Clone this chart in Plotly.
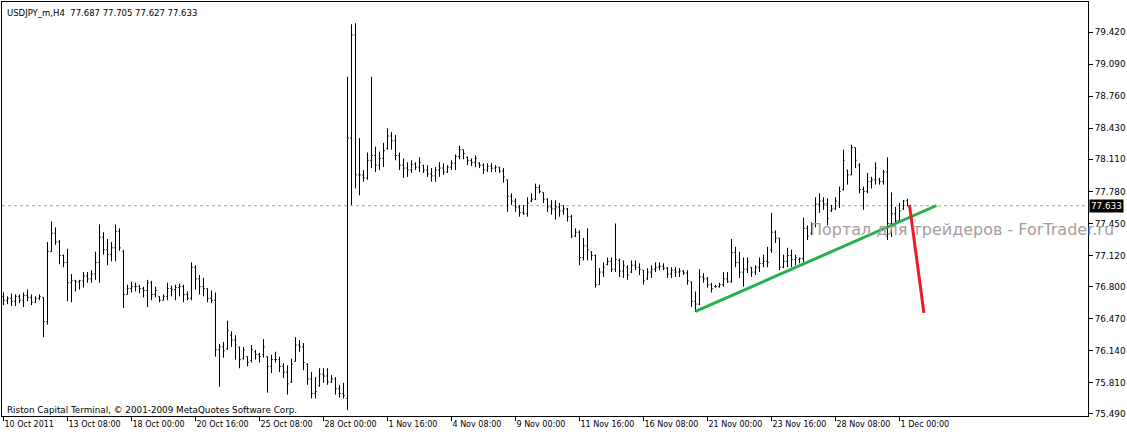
import plotly.graph_objects as go

# ---- data ----
bar_index = list(range(227))

opens = [76.70, 76.66, 76.68, 76.65, 76.70, 76.66, 76.71, 76.69, 76.64, 76.68,
         76.69, 76.44, 77.16, 77.35, 77.26, 77.12, 77.05, 76.84, 76.86, 76.85,
         76.86, 76.91, 76.88, 76.93, 77.05, 77.31, 77.18, 77.13, 77.20, 77.37,
         77.16, 76.72, 76.78, 76.80, 76.80, 76.78, 76.76, 76.84, 76.72, 76.70,
         76.66, 76.70, 76.78, 76.77, 76.79, 76.80, 76.72, 76.68, 77.00, 76.88,
         76.80, 76.78, 76.68, 76.66, 76.15, 76.18, 76.16, 76.30, 76.25, 76.18,
         76.06, 76.08, 76.04, 76.13, 76.10, 76.10, 76.08, 75.98, 76.05, 76.05,
         75.98, 75.92, 75.82, 76.03, 76.20, 76.18, 76.00, 75.85, 75.70, 75.78,
         75.90, 75.88, 75.82, 75.85, 75.75, 75.70, 75.65, 78.33, 79.39, 77.95,
         77.95, 77.92, 78.10, 78.15, 78.05, 78.12, 78.22, 78.35, 78.30, 78.15,
         78.05, 78.02, 78.00, 78.06, 78.03, 78.05, 78.00, 77.96, 77.94, 78.00,
         78.02, 77.98, 78.03, 78.07, 78.14, 78.21, 78.13, 78.10, 78.08, 78.07,
         78.05, 78.00, 78.04, 78.02, 78.03, 77.99, 77.90, 77.73, 77.68, 77.62,
         77.56, 77.55, 77.68, 77.70, 77.82, 77.77, 77.70, 77.62, 77.60, 77.62,
         77.58, 77.60, 77.52, 77.32, 77.36, 77.10, 77.22, 77.16, 77.12, 76.82,
         76.95, 77.03, 77.06, 76.98, 77.07, 76.96, 77.00, 76.95, 77.02, 77.00,
         76.97, 76.88, 76.95, 76.98, 77.00, 77.01, 76.99, 76.93, 76.97, 76.95,
         76.96, 76.94, 76.85, 76.65, 76.62, 76.90, 76.88, 76.82, 76.80, 76.80,
         76.82, 76.88, 76.85, 77.15, 77.05, 76.95, 76.98, 77.00, 76.95, 77.00,
         77.04, 77.06, 77.18, 77.36, 77.30, 77.00, 77.06, 77.12, 77.08, 77.08,
         77.09, 77.40, 77.35, 77.45, 77.65, 77.68, 77.65, 77.58, 77.60, 77.66,
         77.80, 78.00, 77.95, 78.23, 78.05, 77.80, 77.78, 77.88, 77.90, 77.90,
         77.88, 77.98, 77.45, 77.55, 77.48, 77.60, 77.687]

highs = [76.74, 76.70, 76.73, 76.72, 76.72, 76.74, 76.77, 76.72, 76.70, 76.72,
         76.69, 77.26, 77.47, 77.41, 77.28, 77.13, 77.19, 76.93, 76.87, 76.87,
         76.95, 76.95, 76.97, 77.16, 77.44, 77.36, 77.29, 77.26, 77.44, 77.40,
         77.18, 76.82, 76.85, 76.84, 76.82, 76.80, 76.87, 76.86, 76.80, 76.70,
         76.72, 76.84, 76.81, 76.82, 76.83, 76.82, 76.75, 77.05, 77.02, 76.92,
         76.89, 76.78, 76.76, 76.74, 76.21, 76.23, 76.45, 76.34, 76.30, 76.18,
         76.18, 76.08, 76.20, 76.15, 76.12, 76.26, 76.08, 76.10, 76.13, 76.08,
         76.01, 75.99, 76.06, 76.28, 76.25, 76.22, 76.01, 75.92, 75.87, 75.96,
         75.96, 75.96, 75.89, 75.87, 75.79, 75.81, 78.96, 79.50, 79.51, 78.33,
         78.00, 78.18, 78.96, 78.24, 78.19, 78.28, 78.43, 78.39, 78.36, 78.18,
         78.12, 78.08, 78.10, 78.08, 78.13, 78.05, 78.05, 78.02, 78.03, 78.08,
         78.07, 78.05, 78.10, 78.16, 78.25, 78.21, 78.14, 78.12, 78.15, 78.08,
         78.07, 78.07, 78.07, 78.05, 78.03, 78.02, 77.90, 77.76, 77.71, 77.64,
         77.64, 77.72, 77.76, 77.86, 77.85, 77.77, 77.71, 77.69, 77.69, 77.66,
         77.64, 77.61, 77.54, 77.40, 77.38, 77.30, 77.40, 77.16, 77.13, 76.99,
         77.05, 77.10, 77.10, 77.45, 77.09, 77.07, 77.02, 77.07, 77.07, 77.04,
         76.97, 76.99, 77.02, 77.05, 77.05, 77.04, 77.00, 77.00, 77.00, 76.99,
         76.97, 76.97, 76.85, 76.75, 76.98, 76.94, 76.90, 76.84, 76.82, 76.84,
         76.95, 76.95, 77.29, 77.21, 77.16, 77.10, 77.10, 77.00, 77.02, 77.10,
         77.13, 77.21, 77.56, 77.38, 77.30, 77.13, 77.20, 77.18, 77.13, 77.10,
         77.51, 77.43, 77.46, 77.72, 77.76, 77.72, 77.71, 77.64, 77.72, 77.83,
         78.21, 78.00, 78.26, 78.23, 78.07, 77.83, 77.97, 77.93, 78.08, 77.92,
         78.00, 78.13, 77.77, 77.62, 77.66, 77.69, 77.705]

lows = [76.61, 76.62, 76.60, 76.60, 76.63, 76.59, 76.65, 76.61, 76.63, 76.66,
        76.28, 76.41, 77.16, 77.23, 77.03, 77.00, 76.65, 76.64, 76.75, 76.77,
        76.79, 76.84, 76.84, 76.87, 76.84, 77.13, 77.02, 77.06, 77.06, 77.17,
        76.58, 76.72, 76.74, 76.75, 76.73, 76.69, 76.59, 76.66, 76.69, 76.64,
        76.66, 76.66, 76.70, 76.66, 76.70, 76.64, 76.66, 76.66, 76.77, 76.72,
        76.70, 76.64, 76.63, 76.08, 75.77, 76.07, 76.15, 76.18, 76.05, 75.96,
        76.05, 75.98, 76.02, 76.05, 76.02, 76.07, 75.71, 75.91, 76.02, 75.92,
        75.86, 75.69, 75.81, 76.03, 76.13, 75.94, 75.79, 75.65, 75.65, 75.77,
        75.81, 75.79, 75.81, 75.69, 75.66, 75.65, 75.53, 77.64, 77.81, 77.74,
        77.88, 77.90, 78.02, 77.98, 78.00, 78.03, 78.21, 78.21, 78.10, 78.00,
        77.92, 77.93, 77.97, 78.00, 77.98, 77.97, 77.93, 77.88, 77.88, 77.93,
        77.95, 77.97, 78.00, 78.00, 78.11, 78.11, 78.05, 78.04, 78.03, 78.02,
        77.96, 77.98, 77.98, 77.98, 77.97, 77.87, 77.57, 77.64, 77.57, 77.52,
        77.54, 77.52, 77.67, 77.69, 77.76, 77.66, 77.57, 77.54, 77.49, 77.52,
        77.54, 77.47, 77.30, 77.31, 77.02, 77.07, 77.07, 77.07, 76.79, 76.82,
        76.90, 77.02, 76.95, 76.95, 76.90, 76.89, 76.87, 76.94, 76.97, 76.92,
        76.82, 76.87, 76.89, 76.95, 76.97, 76.97, 76.89, 76.89, 76.90, 76.90,
        76.92, 76.82, 76.59, 76.54, 76.61, 76.84, 76.79, 76.74, 76.79, 76.79,
        76.80, 76.84, 76.84, 77.00, 76.89, 76.80, 76.94, 76.90, 76.92, 76.95,
        77.00, 77.00, 77.15, 77.25, 76.97, 76.99, 77.00, 77.00, 77.02, 77.04,
        77.05, 77.28, 77.33, 77.41, 77.56, 77.59, 77.43, 77.57, 77.59, 77.61,
        77.79, 77.85, 77.95, 78.02, 77.76, 77.59, 77.76, 77.81, 77.85, 77.85,
        77.85, 77.28, 77.31, 77.43, 77.46, 77.59, 77.627]

closes = [76.66, 76.68, 76.65, 76.70, 76.66, 76.71, 76.69, 76.64, 76.68, 76.70,
          76.44, 77.16, 77.35, 77.26, 77.12, 77.05, 76.84, 76.86, 76.85, 76.86,
          76.91, 76.88, 76.93, 77.05, 77.31, 77.18, 77.13, 77.20, 77.37, 77.20,
          76.72, 76.78, 76.80, 76.80, 76.78, 76.76, 76.84, 76.72, 76.76, 76.66,
          76.70, 76.78, 76.77, 76.79, 76.80, 76.72, 76.68, 77.00, 76.88, 76.80,
          76.78, 76.68, 76.66, 76.15, 76.18, 76.14, 76.35, 76.25, 76.20, 76.05,
          76.15, 76.02, 76.15, 76.10, 76.08, 76.18, 75.98, 76.05, 76.05, 75.98,
          75.92, 75.80, 76.00, 76.20, 76.18, 76.02, 75.85, 75.70, 75.72, 75.90,
          75.88, 75.82, 75.85, 75.75, 75.70, 75.68, 78.33, 79.39, 77.95, 77.95,
          77.92, 78.10, 78.15, 78.05, 78.12, 78.20, 78.35, 78.30, 78.15, 78.05,
          78.02, 78.00, 78.06, 78.03, 78.08, 78.00, 77.96, 77.94, 78.00, 78.02,
          77.98, 78.03, 78.07, 78.14, 78.21, 78.17, 78.10, 78.08, 78.12, 78.05,
          78.00, 78.04, 78.02, 78.03, 77.99, 77.93, 77.73, 77.68, 77.62, 77.56,
          77.55, 77.66, 77.70, 77.82, 77.78, 77.70, 77.62, 77.60, 77.62, 77.58,
          77.60, 77.52, 77.32, 77.36, 77.10, 77.22, 77.18, 77.12, 76.82, 76.95,
          77.00, 77.06, 76.98, 77.08, 76.96, 77.02, 76.92, 77.02, 77.00, 76.98,
          76.86, 76.95, 76.98, 77.00, 77.01, 76.99, 76.93, 76.97, 76.95, 76.96,
          76.94, 76.86, 76.65, 76.62, 76.90, 76.88, 76.82, 76.78, 76.80, 76.82,
          76.88, 76.85, 77.15, 77.05, 76.95, 76.98, 77.06, 76.95, 77.00, 77.04,
          77.06, 77.05, 77.36, 77.30, 77.00, 77.06, 77.12, 77.08, 77.10, 77.09,
          77.40, 77.32, 77.40, 77.65, 77.68, 77.65, 77.50, 77.60, 77.68, 77.78,
          78.10, 77.95, 78.23, 78.10, 77.80, 77.78, 77.88, 77.90, 78.02, 77.88,
          77.98, 77.45, 77.55, 77.48, 77.58, 77.68, 77.633]

# time-axis labels (every 16 bars of H4)
time_tick_pos = [0, 16, 32, 48, 64, 80, 96, 112, 128, 144, 160, 176, 192, 208, 224]
time_tick_text = ["10 Oct 2011", "13 Oct 08:00", "18 Oct 00:00", "20 Oct 16:00",
                  "25 Oct 08:00", "28 Oct 00:00", "1 Nov 16:00", "4 Nov 08:00",
                  "9 Nov 00:00", "11 Nov 16:00", "16 Nov 08:00", "21 Nov 00:00",
                  "23 Nov 16:00", "28 Nov 08:00", "1 Dec 00:00"]

price_ticks = [75.49, 75.81, 76.14, 76.47, 76.80, 77.12, 77.45, 77.78,
               78.11, 78.43, 78.76, 79.09, 79.42]
price_tick_text = ["75.490", "75.810", "76.140", "76.470", "76.800", "77.120", "77.450",
                   "77.780", "78.110", "78.430", "78.760", "79.090", "79.420"]

last_price = 77.633
title_text = "USDJPY_m,H4  77.687 77.705 77.627 77.633"

# hand-drawn lines
trend_x = [173, 233.25]
trend_y = [76.545, 77.635]
red_x = [226.5, 230.1]
red_y = [77.64, 76.53]

FONT = "DejaVu Sans"

fig = go.Figure()
fig.add_trace(go.Ohlc(
    x=bar_index, open=opens, high=highs, low=lows, close=closes,
    increasing=dict(line=dict(color="black", width=1)),
    decreasing=dict(line=dict(color="black", width=1)),
    tickwidth=0.3, showlegend=False, hoverinfo="skip"))

fig.add_trace(go.Scatter(x=trend_x, y=trend_y, mode="lines",
                         line=dict(color="#22b14c", width=3),
                         showlegend=False, hoverinfo="skip"))
fig.add_trace(go.Scatter(x=red_x, y=red_y, mode="lines",
                         line=dict(color="#ed1c24", width=3),
                         showlegend=False, hoverinfo="skip"))

# current price dotted line
fig.add_shape(type="line", xref="paper", x0=0, x1=1, yref="y",
              y0=last_price, y1=last_price,
              line=dict(color="#a8a8a8", width=1, dash="dot"), layer="below")

fig.update_layout(
    width=1127, height=436,
    margin=dict(l=2, r=39, t=2, b=20, autoexpand=False),
    paper_bgcolor="white", plot_bgcolor="white",
    font=dict(family=FONT, size=9, color="black"),
    xaxis=dict(range=[-0.375, 271.125], rangeslider=dict(visible=False),
               showgrid=False, zeroline=False, automargin=False,
               showline=True, linecolor="black", linewidth=1, mirror=True,
               tickmode="array", tickvals=time_tick_pos, ticktext=time_tick_text,
               ticks="outside", ticklen=4, tickcolor="black", tickangle=0,
               ticklabelposition="outside right", ticklabeloverflow="allow",
               tickfont=dict(family=FONT, size=8, color="black")),
    yaxis=dict(range=[75.469, 79.729], side="right",
               showgrid=False, zeroline=False, automargin=False,
               showline=True, linecolor="black", linewidth=1, mirror=True,
               tickmode="array", tickvals=price_ticks, ticktext=price_tick_text,
               ticks="outside", ticklen=4, tickcolor="black",
               ticklabeloverflow="allow",
               tickfont=dict(family=FONT, size=8.8, color="black")),
)

annotations = [
    dict(text=title_text, xref="paper", yref="paper", x=0.003, y=0.973,
         xanchor="left", yanchor="middle", showarrow=False,
         font=dict(family=FONT, size=8.5, color="black")),
    dict(text="Riston Capital Terminal, © 2001-2009 MetaQuotes Software Corp.",
         xref="paper", yref="paper", x=0.003, y=0.015,
         xanchor="left", yanchor="middle", showarrow=False,
         font=dict(family=FONT, size=8.8, color="black")),
    dict(text="Портал для трейдеров - ForTrader.ru", xref="paper", yref="y",
         x=0.742, y=77.39, xanchor="left", yanchor="middle", showarrow=False,
         font=dict(family=FONT, size=16, color="#a89c9c")),
    dict(text=f"{last_price:.3f}", xref="paper", yref="y", x=1, y=last_price,
         xanchor="left", yanchor="middle", showarrow=False, xshift=1,
         bgcolor="black", borderpad=1,
         font=dict(family=FONT, size=8.8, color="white")),
]
fig.update_layout(annotations=annotations)

fig.write_html("out.html", config={"displayModeBar": False},
               post_script="document.body.style.margin='0';document.body.style.overflow='hidden';")
